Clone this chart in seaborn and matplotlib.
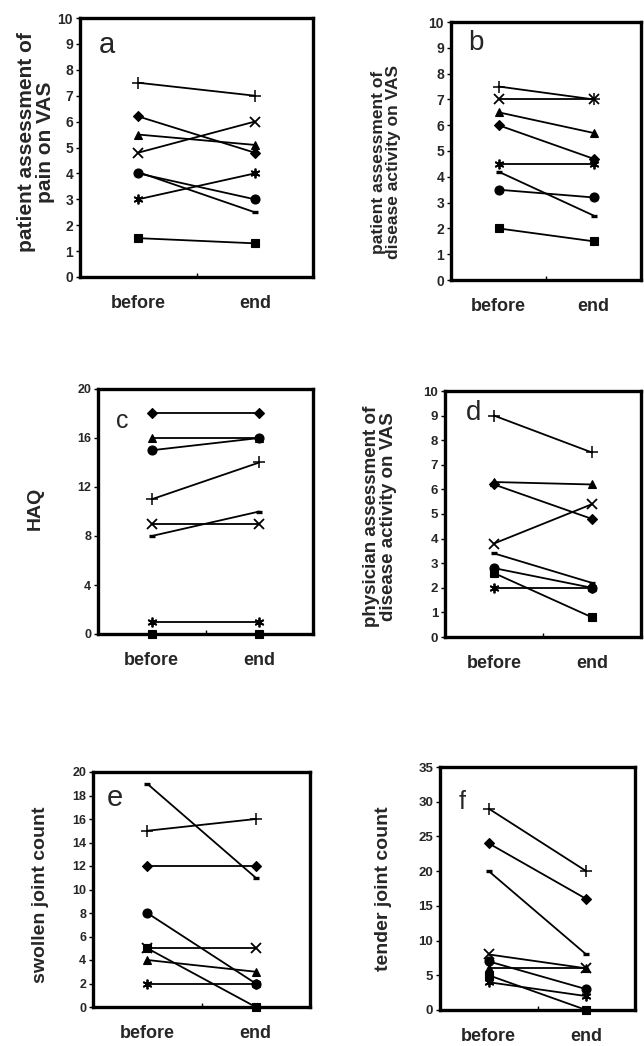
import matplotlib
matplotlib.use("Agg")
import matplotlib.pyplot as plt
import seaborn as sns
import pandas as pd
from matplotlib.ticker import FixedLocator

sns.set_style("white")
plt.rcParams['font.family'] = ['Liberation Sans', 'DejaVu Sans']

# ---------------- data ----------------
categories = ["before", "end"]
patients = ["P1", "P2", "P3", "P4", "P5", "P6", "P7", "P8"]

a_before = [7.5, 6.2, 5.5, 4.8, 4.0, 3.0, 4.05, 1.5]
a_end    = [7.0, 4.8, 5.1, 6.0, 3.0, 4.0, 2.5, 1.3]
b_before = [7.5, 6.0, 6.5, 7.0, 3.5, 4.5, 4.2, 2.0]
b_end    = [7.0, 4.7, 5.7, 7.0, 3.2, 4.5, 2.5, 1.5]
c_before = [11, 18, 16, 9, 15, 1, 8, 0]
c_end    = [14, 18, 16, 9, 16, 1, 10, 0]
d_before = [9.0, 6.2, 6.3, 3.8, 2.8, 2.0, 3.4, 2.6]
d_end    = [7.5, 4.8, 6.2, 5.4, 2.0, 2.0, 2.2, 0.8]
e_before = [15, 12, 4, 5, 8, 2, 19, 5]
e_end    = [16, 12, 3, 5, 2, 2, 11, 0]
f_before = [29, 24, 6, 8, 7, 4, 20, 5]
f_end    = [20, 16, 6, 6, 3, 2, 8, 0]

panel_letters = ["a", "b", "c", "d", "e", "f"]
panel_ylabels = [
    "patient assessment of\npain on VAS",
    "patient assessment of\ndisease activity on VAS",
    "HAQ",
    "physician assessment of\ndisease activity on VAS",
    "swollen joint count",
    "tender joint count",
]
panel_yticks = [
    list(range(0, 11)),
    list(range(0, 11)),
    [0, 4, 8, 12, 16, 20],
    list(range(0, 11)),
    list(range(0, 21, 2)),
    list(range(0, 36, 5)),
]

# ---------------- styles ----------------
marker_styles = [
    dict(marker="+", markersize=8, markeredgewidth=1.1),
    dict(marker="D", markersize=4.8, markeredgewidth=0.8),
    dict(marker="^", markersize=6.2, markeredgewidth=0.8),
    dict(marker="x", markersize=6.5, markeredgewidth=1.3),
    dict(marker="o", markersize=6.5, markeredgewidth=0.8),
    dict(marker=(6, 2, 0), markersize=7, markeredgewidth=1.3),
    dict(marker="_", markersize=5, markeredgewidth=2.4),
    dict(marker="s", markersize=5.4, markeredgewidth=0.8),
]

W, H = 644, 1046
# axes boxes in pixels: left, right, top, bottom
boxes = [
    (80, 313, 18, 277),
    (451, 641, 22, 280),
    (98, 313, 389, 634),
    (445, 641, 391, 637),
    (93, 310, 772, 1007),
    (440, 635, 767, 1010),
]
tick_fs = [10, 10, 9, 9.5, 9, 9.5]
ylabel_fs = [15, 12.5, 14, 13.5, 14, 14]
ylabel_pos = [(-0.19, 0.52), (-0.342, 0.457), (-0.293, 0.514),
              (-0.33, 0.49), (-0.24, 0.477), (-0.292, 0.498)]
letter_pos = [(0.116, 0.896), (0.13, 0.92), (0.112, 0.87),
              (0.147, 0.91), (0.10, 0.89), (0.113, 0.855)]
letter_fs = [21, 20, 18, 20, 21, 18]

befores = [a_before, b_before, c_before, d_before, e_before, f_before]
ends = [a_end, b_end, c_end, d_end, e_end, f_end]

fig = plt.figure(figsize=(W / 100, H / 100), dpi=100)

for i in range(6):
    L, R, T, B = boxes[i]
    ax = fig.add_axes([L / W, 1 - B / H, (R - L) / W, (B - T) / H])
    rows = []
    for p, vb, ve in zip(patients, befores[i], ends[i]):
        rows.append(dict(patient=p, time=categories[0], x=0, value=vb))
        rows.append(dict(patient=p, time=categories[1], x=1, value=ve))
    df = pd.DataFrame(rows)
    for j, p in enumerate(patients):
        sub = df[df["patient"] == p]
        sns.lineplot(data=sub, x="x", y="value", ax=ax, color="black",
                     linewidth=1.3, errorbar=None, markeredgecolor="black",
                     markerfacecolor="black", clip_on=False, zorder=3,
                     **marker_styles[j])
    yt = panel_yticks[i]
    ax.set_xlim(-0.5, 1.5)
    ax.set_ylim(yt[0], yt[-1])
    ax.set_xticks([0, 1])
    ax.set_xticklabels(categories, fontsize=13, fontweight="bold")
    ax.xaxis.set_minor_locator(FixedLocator([0.5]))
    ax.tick_params(axis="x", which="major", length=0, pad=13)
    ax.tick_params(axis="x", which="minor", length=3, width=1, direction="in",
                   bottom=True, color="black")
    ax.set_yticks(yt)
    ax.set_yticklabels([str(v) for v in yt], fontsize=tick_fs[i], fontweight="bold")
    ax.tick_params(axis="y", length=3, width=1, direction="out", pad=2,
                   left=True, color="black")
    ax.set_xlabel("")
    ax.set_ylabel("")
    for s in ax.spines.values():
        s.set_linewidth(2.4)
        s.set_color("black")
        s.set_visible(True)
    ax.text(ylabel_pos[i][0], ylabel_pos[i][1], panel_ylabels[i],
            transform=ax.transAxes, rotation=90, ha="center", va="center",
            multialignment="center", fontsize=ylabel_fs[i], fontweight="bold",
            linespacing=1.0)
    ax.text(letter_pos[i][0], letter_pos[i][1], panel_letters[i],
            transform=ax.transAxes, ha="center", va="center",
            fontsize=letter_fs[i])

fig.savefig("out.png", dpi=100)
